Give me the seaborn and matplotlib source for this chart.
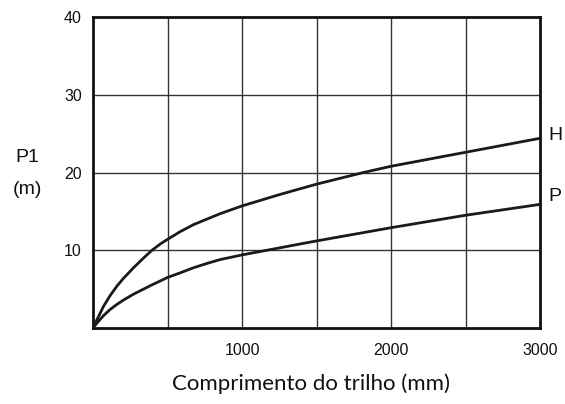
import numpy as np
import pandas as pd
import matplotlib
matplotlib.use('Agg')
import matplotlib.pyplot as plt
import seaborn as sns

# ── DATA ──
comprimento = [0, 27, 71, 116, 161, 205, 272, 339, 396, 451, 500, 586, 675, 764, 853,
               1000, 1250, 1500, 1815, 2000, 2500, 3000]
curva_H = [0, 1.08, 2.8, 4.2, 5.4, 6.4, 7.75, 9.0, 10.0, 10.8, 11.4, 12.4, 13.3, 14.0, 14.7,
           15.7, 17.15, 18.5, 20.0, 20.8, 22.6, 24.4]
curva_P = [0, 0.65, 1.6, 2.4, 3.04, 3.6, 4.35, 5.0, 5.55, 6.05, 6.5, 7.1, 7.75, 8.3, 8.8,
           9.4, 10.3, 11.2, 12.27, 12.9, 14.5, 15.9]
x_ticks = [1000, 2000, 3000]
y_ticks = [10, 20, 30, 40]
x_grid = [500, 1000, 1500, 2000, 2500]
y_grid = [10, 20, 30]

df = pd.DataFrame({
    'x': comprimento * 2,
    'y': curva_H + curva_P,
    'serie': ['H'] * len(comprimento) + ['P'] * len(comprimento),
})

sns.set_style('white')
plt.rcParams['font.family'] = 'sans-serif'
plt.rcParams['font.sans-serif'] = ['Liberation Sans']
INK = '#111111'

fig = plt.figure(figsize=(5.65, 4.04), dpi=100)
ax = fig.add_axes([93/565, 1 - 328/404, (540-93)/565, (328-17)/404])

for v in x_grid:
    ax.axvline(v, color='#333333', lw=1.0, zorder=1)
for v in y_grid:
    ax.axhline(v, color='#333333', lw=1.0, zorder=1)

sns.lineplot(data=df, x='x', y='y', hue='serie', palette=['#1a1a1a', '#1a1a1a'],
             linewidth=2.0, legend=False, ax=ax, zorder=3)

ax.set_xlim(0, 3000)
ax.set_ylim(0, 40)
ax.set_xticks(x_ticks)
ax.set_yticks(y_ticks)
ax.tick_params(length=0, labelsize=11.5, colors=INK)
ax.tick_params(axis='x', pad=11)
ax.tick_params(axis='y', pad=8)
for s in ax.spines.values():
    s.set_linewidth(2.0)
    s.set_color(INK)

ax.set_xlabel('Comprimento do trilho (mm)', fontsize=16, family='Lato', color=INK)
ax.xaxis.set_label_coords(0.488, -0.145)
ax.xaxis.label.set_va('top')
ax.set_ylabel('')

fig.text(27/565, 1 - 157/404, 'P1', fontsize=14, ha='center', va='center', color=INK)
fig.text(27/565, 1 - 189/404, '(m)', fontsize=14, ha='center', va='center', color=INK)
ax.annotate('H', xy=(3000, curva_H[-1]), xytext=(6, 2), textcoords='offset points',
            fontsize=14, ha='left', va='center', color=INK, annotation_clip=False)
ax.annotate('P', xy=(3000, curva_P[-1]), xytext=(6, 6), textcoords='offset points',
            fontsize=14, ha='left', va='center', color=INK, annotation_clip=False)

fig.savefig('out.png', dpi=100, facecolor='white')
